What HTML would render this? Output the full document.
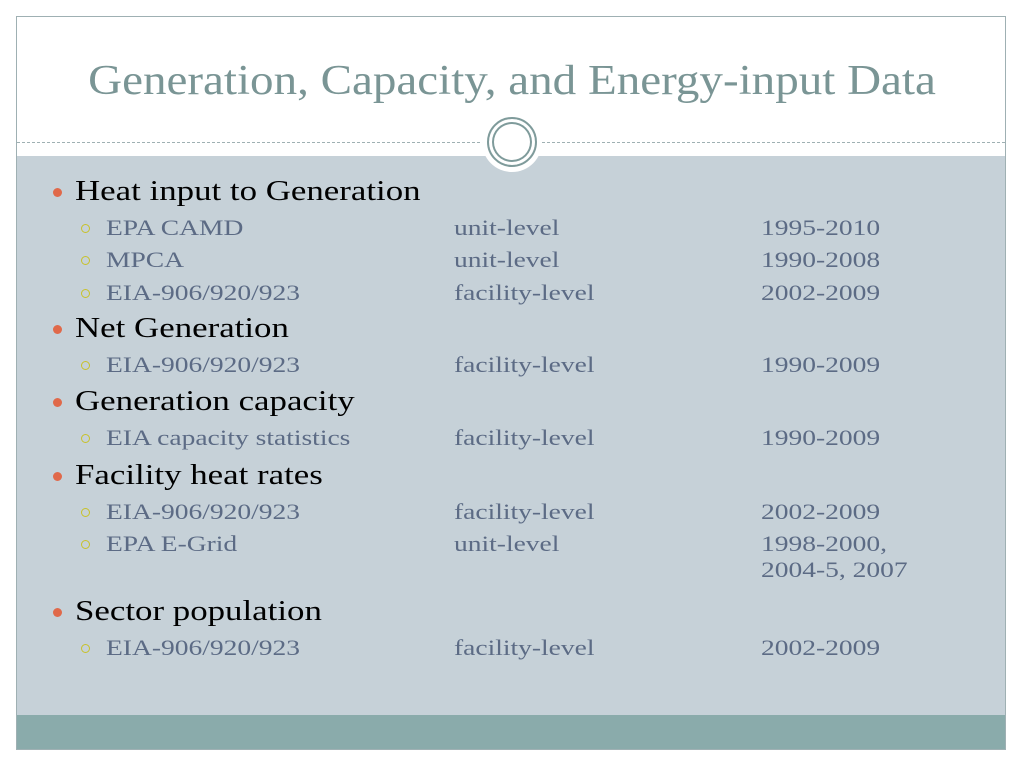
<!DOCTYPE html>
<html><head><meta charset="utf-8"><style>
body{margin:0;width:1024px;height:768px;background:#fff;position:relative;overflow:hidden;font-family:"Liberation Serif",serif}
.frame{position:absolute;left:16px;top:16px;width:990px;height:734px;border:1px solid #9fb0b3;box-sizing:border-box}
.gray{position:absolute;left:17px;top:156px;width:988px;height:559px;background:#c6d1d8}
.teal{position:absolute;left:17px;top:715px;width:988px;height:34px;background:#8aabab}
.dash{position:absolute;left:17px;top:142px;width:988px;border-top:1px dashed #9fb0b3}
.title{position:absolute;left:0;width:1024px;top:57px;text-align:center;font-size:42px;color:#7a9595;transform:scaleX(1.12);transform-origin:512px 0}
.circ{position:absolute;left:482px;top:112px;width:60px;height:60px;border-radius:50%;background:#fff}
.ring{position:absolute;left:487px;top:117px;width:46px;height:46px;border-radius:50%;border:2px solid #7f9b9b;box-shadow:inset 0 0 0 3px #fff,inset 0 0 0 5px #7f9b9b}
.h{position:absolute;left:75px;font-size:28px;color:#000;line-height:32px;white-space:nowrap}
.h span{display:inline-block;transform:scaleX(1.245);transform-origin:0 0}
.h::before{content:"";position:absolute;left:-22px;top:12px;width:9px;height:9px;border-radius:50%;background:#e0694a}
.s{position:absolute;font-size:22px;color:#5c6b85;line-height:26px;white-space:nowrap}
.s span{display:inline-block;transform:scaleX(1.25);transform-origin:0 0}
.s.b::before{content:"";position:absolute;left:-25px;top:9px;width:7px;height:7px;border-radius:50%;border:1.5px solid #c8c22a}
</style></head><body>
<div class="frame"></div>
<div class="gray"></div>
<div class="teal"></div>
<div class="dash"></div>
<div class="title">Generation, Capacity, and Energy-input Data</div>
<div class="circ"></div><div class="ring"></div>

<div class="h" style="top:176px"><span>Heat input to Generation</span></div>
<div class="s b" style="left:106px;top:215px"><span>EPA CAMD</span></div><div class="s" style="left:454px;top:215px"><span>unit-level</span></div><div class="s" style="left:761px;top:215px"><span>1995-2010</span></div>
<div class="s b" style="left:106px;top:247px"><span>MPCA</span></div><div class="s" style="left:454px;top:247px"><span>unit-level</span></div><div class="s" style="left:761px;top:247px"><span>1990-2008</span></div>
<div class="s b" style="left:106px;top:280px"><span>EIA-906/920/923</span></div><div class="s" style="left:454px;top:280px"><span>facility-level</span></div><div class="s" style="left:761px;top:280px"><span>2002-2009</span></div>

<div class="h" style="top:313px"><span>Net Generation</span></div>
<div class="s b" style="left:106px;top:352px"><span>EIA-906/920/923</span></div><div class="s" style="left:454px;top:352px"><span>facility-level</span></div><div class="s" style="left:761px;top:352px"><span>1990-2009</span></div>

<div class="h" style="top:386px"><span>Generation capacity</span></div>
<div class="s b" style="left:106px;top:425px"><span>EIA capacity statistics</span></div><div class="s" style="left:454px;top:425px"><span>facility-level</span></div><div class="s" style="left:761px;top:425px"><span>1990-2009</span></div>

<div class="h" style="top:460px"><span>Facility heat rates</span></div>
<div class="s b" style="left:106px;top:499px"><span>EIA-906/920/923</span></div><div class="s" style="left:454px;top:499px"><span>facility-level</span></div><div class="s" style="left:761px;top:499px"><span>2002-2009</span></div>
<div class="s b" style="left:106px;top:531px"><span>EPA E-Grid</span></div><div class="s" style="left:454px;top:531px"><span>unit-level</span></div><div class="s" style="left:761px;top:531px"><span>1998-2000,</span><br><span>2004-5, 2007</span></div>

<div class="h" style="top:596px"><span>Sector population</span></div>
<div class="s b" style="left:106px;top:635px"><span>EIA-906/920/923</span></div><div class="s" style="left:454px;top:635px"><span>facility-level</span></div><div class="s" style="left:761px;top:635px"><span>2002-2009</span></div>
</body></html>
